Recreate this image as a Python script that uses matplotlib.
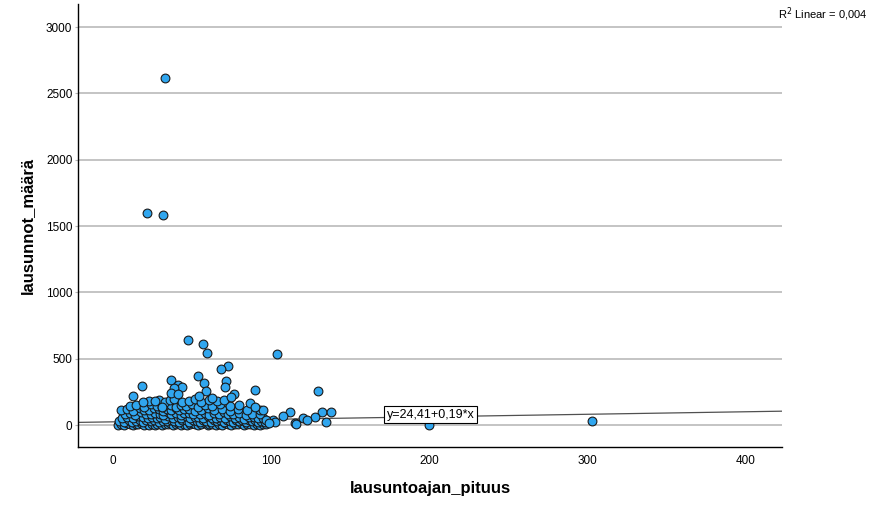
import numpy as np
import matplotlib
matplotlib.use("Agg")
from matplotlib import pyplot as plt

plt.rcParams['font.family'] = ['Liberation Sans', 'DejaVu Sans']

# sparse / outlying cases (lausuntoajan_pituus, lausunnot_määrä)
out_x = [33, 21.5, 31.5, 47.5, 57, 59.5, 104, 72.8, 68.4, 54, 36.7, 71.5, 57.6, 41,
         18.4, 71, 43.7, 39, 90, 59, 130, 36.7, 76.6, 41, 12.7, 54.4, 74.7, 62.7,
         26.6, 19, 87, 31, 93, 95, 90, 112, 132, 138, 107.6, 128, 120, 123, 102.5,
         115, 135, 97, 99, 116, 200, 303]
out_y = [2615, 1595, 1585, 641, 611, 540, 535, 445, 422, 370, 339, 332, 317, 302,
         294, 290, 287, 279, 264, 256, 256, 241, 234, 234, 219, 219, 211, 204,
         185, 173, 170, 140, 113, 113, 136, 98, 98, 98, 68, 60, 53, 38, 23,
         15, 23, 38, 15, 8, -3, 33]

# dense band of ordinary cases
band_x = [3, 5, 7, 9, 11, 13, 15, 16, 18, 20, 22, 23, 25, 27, 28, 30, 31, 33, 35, 36,
          38, 40, 41, 43, 45, 47, 49, 50, 52, 54, 56, 58, 60, 61, 63, 65, 67, 69, 71, 73,
          75, 77, 79, 81, 83, 85, 87, 89, 91, 93, 95, 97,
          4, 7, 10, 12, 15, 17, 19, 21, 24, 26, 29, 32, 34, 37, 39, 42, 44, 46, 48, 51,
          53, 55, 57, 59, 62, 64, 66, 68, 70, 72, 74, 76, 78, 80, 82, 84, 86, 88, 90, 92,
          94, 96, 98, 101,
          6, 9, 13, 16, 19, 22, 25, 28, 30, 33, 35, 38, 41, 43, 46, 49, 52, 54, 57, 60,
          63, 65, 68, 71, 74, 77, 80, 83, 86, 89, 92, 95,
          8, 11, 14, 18, 21, 24, 27, 30, 32, 35, 37, 40, 43, 45, 48, 51, 55, 58, 61, 64,
          67, 70, 73, 76, 80, 84, 88, 93,
          5, 9, 13, 17, 20, 23, 26, 29, 32, 34, 37, 40, 42, 45, 48, 52, 56, 60, 64, 69,
          74, 79, 85,
          11, 15, 20, 24, 28, 31, 34, 37, 40, 43, 46, 50, 54, 58, 63, 68, 74, 80,
          23, 29, 33, 36, 39, 44, 48, 52, 56, 61, 66, 70]
band_y = [4, 9, 2, 12, 6, 3, 10, 5, 14, 2, 8, 4, 11, 3, 7, 13, 2, 9, 5, 12,
          3, 8, 14, 4, 10, 2, 7, 12, 5, 3, 9, 13, 2, 6, 11, 4, 8, 3, 12, 6,
          2, 10, 5, 13, 3, 7, 11, 4, 9, 2, 6, 5,
          30, 24, 38, 27, 33, 41, 25, 36, 29, 40, 23, 34, 28, 39, 31, 26, 42, 35, 24, 37,
          30, 27, 40, 33, 25, 38, 29, 36, 23, 41, 32, 26, 39, 28, 35, 24, 37, 31, 40, 27,
          34, 25, 30, 36,
          55, 62, 50, 66, 58, 52, 64, 57, 60, 49, 67, 54, 61, 56, 65, 51, 59, 63, 53, 68,
          57, 50, 62, 55, 66, 52, 60, 48, 58, 64, 53, 56,
          82, 90, 78, 95, 85, 80, 93, 87, 76, 97, 84, 91, 79, 88, 94, 81, 86, 92, 77, 89,
          83, 96, 80, 87, 91, 78, 85, 82,
          113, 120, 108, 125, 116, 110, 128, 118, 106, 122, 114, 127, 111, 119, 124, 109,
          117, 126, 112, 121, 107, 118, 110,
          142, 150, 138, 158, 146, 140, 162, 148, 136, 155, 144, 160, 139, 152, 147, 157,
          141, 149,
          178, 192, 172, 188, 198, 176, 185, 195, 174, 190, 182, 186]

intercept = 24.41
slope = 0.19
r2_text = "R$^2$ Linear = 0,004"
fit_text = "y=24,41+0,19*x"

fig = plt.figure(figsize=(8.72, 5.12), dpi=100)
ax = fig.add_axes([0.0894, 0.127, 0.8074, 0.865])

xmin, xmax = -22, 423
ax.set_xlim(xmin, xmax)
ax.set_ylim(-165, 3173)

ax.set_yticks(np.arange(0, 3001, 500))
ax.set_xticks(np.arange(0, 401, 100))
ax.yaxis.grid(True, color='#b4b4b4', linewidth=1.1)
ax.set_axisbelow(True)

xs = np.array([xmin, xmax])
ax.plot(xs, intercept + slope * xs, color='#505050', linewidth=0.9, zorder=2)

ax.scatter(band_x + out_x, band_y + out_y, s=40, color='#30a6ef',
           edgecolor='#1a1a1a', linewidth=0.8, zorder=3)

ax.text(201, 79, fit_text, fontsize=9, ha='center', va='center', zorder=4,
        bbox=dict(boxstyle='square,pad=0.2', facecolor='white', edgecolor='black', linewidth=0.8))

for s in ['top', 'right']:
    ax.spines[s].set_visible(False)
ax.spines['left'].set_linewidth(1.0)
ax.spines['bottom'].set_linewidth(1.0)

ax.tick_params(axis='x', length=0, pad=6, labelsize=8.5)
ax.tick_params(axis='y', length=2, color='#b4b4b4', pad=2, labelsize=8.5)

ax.set_xlabel("lausuntoajan_pituus", fontsize=12, fontweight='bold', labelpad=10)
ax.set_ylabel("lausunnot_määrä", fontsize=12, fontweight='bold', labelpad=8)

fig.text(0.995, 0.972, r2_text, fontsize=8, ha='right', va='center')

plt.savefig("out.png", dpi=100)
